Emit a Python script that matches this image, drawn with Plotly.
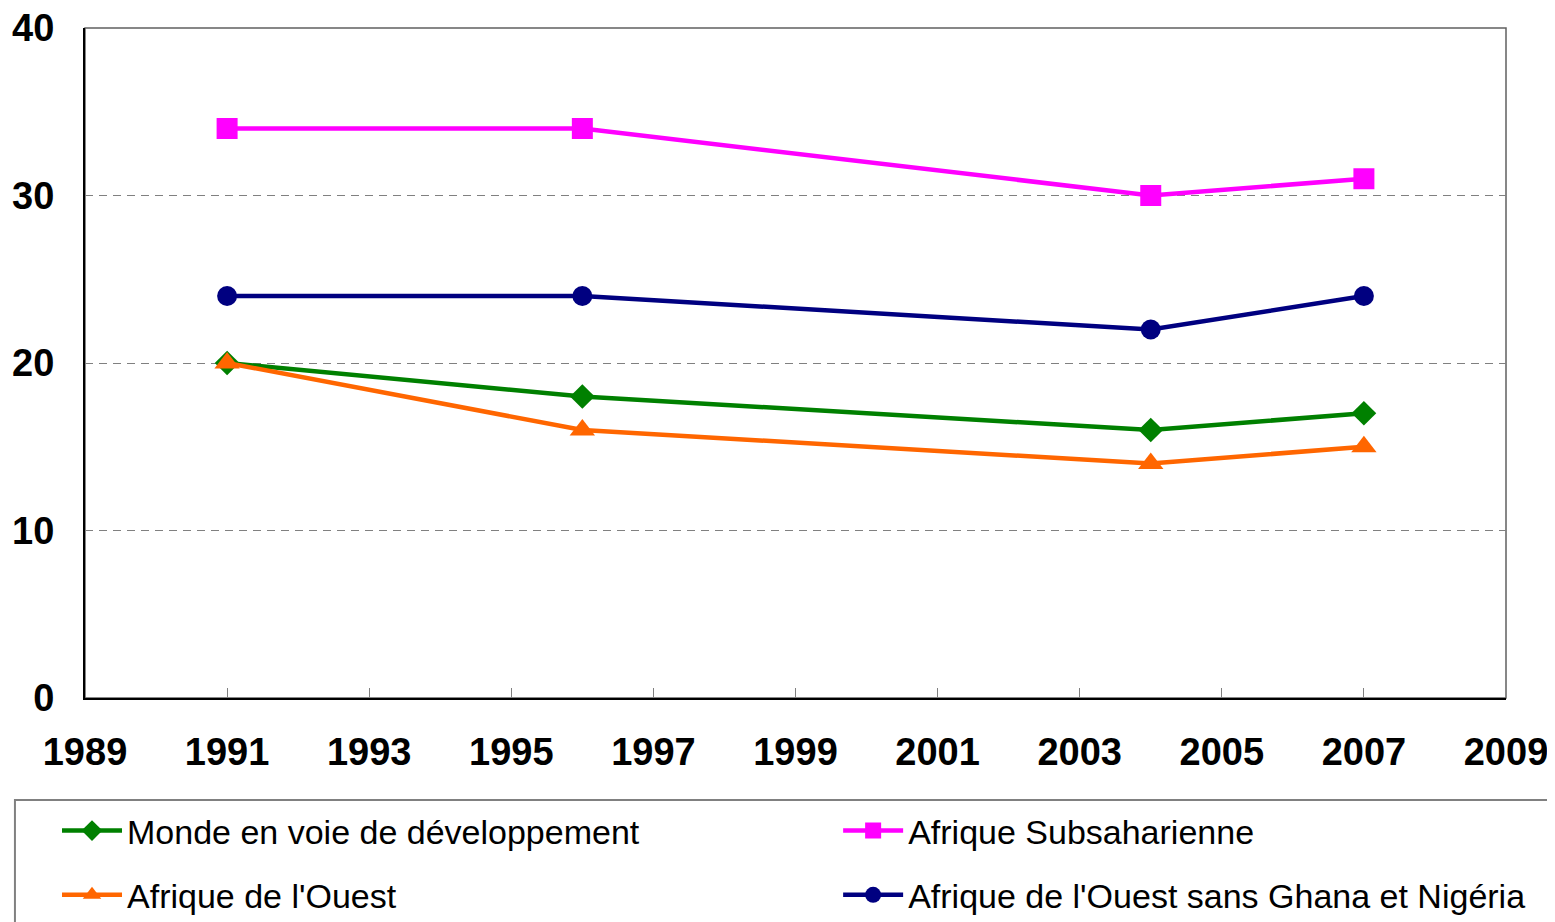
import plotly.graph_objects as go

years = [1991, 1996, 2004, 2007]
monde = [20, 18, 16, 17]
subsaharienne = [34, 34, 30, 31]
ouest = [20, 16, 14, 15]
ouest_sans = [24, 24, 22, 24]

# name, values, colour, marker, size, legend column
series = [
    ("Monde en voie de développement", monde, "#008000", "diamond", 19, "legend"),
    ("Afrique Subsaharienne", subsaharienne, "#FF00FF", "square", 21, "legend2"),
    ("Afrique de l'Ouest", ouest, "#FF6600", "triangle-up", 22, "legend"),
    ("Afrique de l'Ouest sans Ghana et Nigéria", ouest_sans, "#000080", "circle", 20, "legend2"),
]

fig = go.Figure()
for i, (name, vals, col, sym, size, leg) in enumerate(series):
    fig.add_trace(go.Scatter(
        x=years, y=vals, name=name, mode="lines+markers",
        line=dict(color=col, width=4.5),
        marker=dict(symbol=sym, size=size, color=col),
        legend=leg, legendgroup=str(i),
    ))

# two legends side by side = two columns under the plot
leg_font = dict(size=34, family="Liberation Sans, Arial", color="black")
leg_common = dict(orientation="v", xanchor="left", y=-0.1552, yanchor="top",
                  font=leg_font, itemwidth=60, traceorder="grouped",
                  tracegroupgap=17, bgcolor="rgba(0,0,0,0)")

fig.update_layout(
    width=1555, height=922,
    margin=dict(l=77, r=57, t=20, b=232, autoexpand=False),
    paper_bgcolor="white", plot_bgcolor="white",
    font=dict(family="Liberation Sans, Arial", color="black"),
    showlegend=True,
    legend=dict(x=-0.0197, **leg_common),
    legend2=dict(x=0.530, **leg_common),
    xaxis=dict(
        range=[1989, 2009], tickvals=list(range(1989, 2010, 2)),
        showgrid=False, zeroline=False,
        showline=True, linecolor="black", linewidth=2,
        ticks="inside", ticklen=10, tickcolor="#808080", tickwidth=1,
        tickfont=dict(size=38, family="Liberation Sans, Arial", weight="bold"),
        ticklabelstandoff=19, ticklabeloverflow="allow",
    ),
    yaxis=dict(
        range=[0, 40], tickvals=[0, 10, 20, 30, 40],
        showgrid=True, gridcolor="#808080", griddash="8px,6px", gridwidth=1,
        zeroline=False, showline=True, linecolor="black", linewidth=2,
        ticks="", tickfont=dict(size=38, family="Liberation Sans, Arial", weight="bold"),
        ticklabelstandoff=21, ticklabeloverflow="allow",
    ),
)

# plot frame (top and right edges)
fig.add_shape(type="rect", xref="paper", yref="paper", x0=0, x1=1, y0=0, y1=1,
              line=dict(color="#606060", width=1.5), layer="below")
# legend box
fig.add_shape(type="rect", xref="paper", yref="paper", x0=-0.0493, x1=1.05, y0=-0.1522, y1=-0.42,
              line=dict(color="#808080", width=2), layer="below")

fig.write_html("out.html")
